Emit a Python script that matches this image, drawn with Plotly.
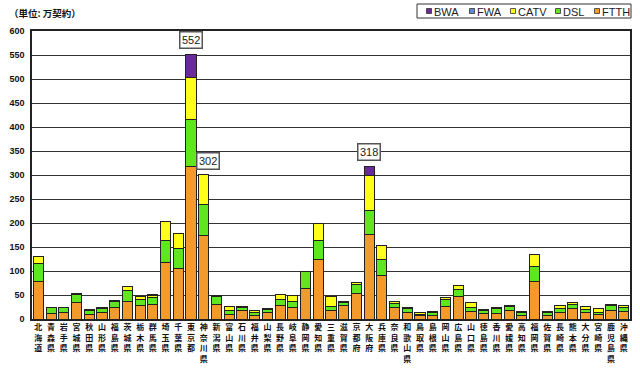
import plotly.graph_objects as go

prefectures = ["北海道", "青森県", "岩手県", "宮城県", "秋田県", "山形県", "福島県", "茨城県", "栃木県", "群馬県",
               "埼玉県", "千葉県", "東京都", "神奈川県", "新潟県", "富山県", "石川県", "福井県", "山梨県", "長野県",
               "岐阜県", "静岡県", "愛知県", "三重県", "滋賀県", "京都府", "大阪府", "兵庫県", "奈良県", "和歌山県",
               "鳥取県", "島根県", "岡山県", "広島県", "山口県", "徳島県", "香川県", "愛媛県", "高知県", "福岡県",
               "佐賀県", "長崎県", "熊本県", "大分県", "宮崎県", "鹿児島県", "沖縄県"]

ftth = [78, 11, 13, 34, 9, 14, 23, 36, 28, 30,
        117, 106, 317, 175, 30, 10, 17, 8, 14, 28,
        25, 63, 123, 18, 28, 53, 177, 90, 24, 14,
        7, 8, 26, 46, 15, 11, 12, 17, 8, 78,
        8, 13, 21, 14, 9, 18, 15]
dsl = [38, 12, 10, 17, 9, 8, 14, 23, 13, 15,
       46, 41, 99, 64, 16, 7, 7, 5, 5, 13,
       12, 35, 41, 9, 6, 19, 49, 33, 9, 7,
       3, 5, 14, 16, 10, 6, 9, 9, 6, 32,
       5, 9, 10, 5, 4, 10, 10]
catv = [14, 1, 1, 3, 2, 1, 1, 8, 5, 3,
        41, 32, 87, 63, 3, 10, 3, 5, 2, 10,
        11, 1, 36, 19, 2, 4, 73, 30, 4, 3,
        4, 2, 5, 7, 10, 2, 2, 3, 1, 25,
        2, 7, 4, 8, 9, 2, 3]
fwa = [0] * 47
bwa = [0] * 47
bwa[9] = 4
bwa[12] = 49
bwa[26] = 19

callouts = {"東京都": 552, "神奈川県": 302, "大阪府": 318}
unit_label = "（単位: 万契約）"

tick_text = ["<br>".join(list(p)) for p in prefectures]

series = [
    ("FTTH", ftth, "#F29B2C"),
    ("DSL", dsl, "#5FE61E"),
    ("CATV", catv, "#FFFF1A"),
    ("FWA", fwa, "#5B8BD6"),
    ("BWA", bwa, "#6B2A9A"),
]

fig = go.Figure()
for name, vals, col in series:
    fig.add_trace(go.Bar(
        x=prefectures, y=vals, name=name,
        marker=dict(color=col, line=dict(color="#222222", width=1)),
        showlegend=False,
    ))

cjk = "Noto Sans CJK JP, Noto Sans, sans-serif"
latin = "Liberation Sans, Arial, sans-serif"

L, R, T, B, W, H = 32, 10, 31, 56, 640, 375
PW, PH = W - L - R, H - T - B
def px(x):
    return (x - L) / PW
def py(y):
    return (H - B - y) / PH

annotations = []
shapes = []
offsets = {"東京都": (0, 14), "神奈川県": (4, 13), "大阪府": (0, 14)}
for p, v in callouts.items():
    dx, dy = offsets[p]
    annotations.append(dict(
        x=p, y=v, xref="x", yref="y", text=str(v), showarrow=False,
        xshift=dx, yshift=dy,
        font=dict(size=11, color="#222222", family=latin),
        bgcolor="white", bordercolor="#555555", borderwidth=1.5, borderpad=1.5,
    ))
annotations.append(dict(
    x=px(7), y=py(13), xref="paper", yref="paper", xanchor="left", yanchor="middle",
    text=unit_label, showarrow=False,
    font=dict(size=9.5, color="#111111", family=cjk, weight="bold"),
))

# legend box (custom, compact like the original)
shapes.append(dict(type="rect", xref="paper", yref="paper",
                   x0=px(417), x1=px(631), y0=py(18), y1=py(4),
                   line=dict(color="#333333", width=1), fillcolor="white"))
leg_x = [429, 472, 513, 558, 597]
for (name, vals, col), lx in zip(reversed(series), leg_x):
    shapes.append(dict(type="rect", xref="paper", yref="paper",
                       x0=px(lx - 2.5), x1=px(lx + 2.5), y0=py(13.5), y1=py(8.5),
                       line=dict(color="#333333", width=0.8), fillcolor=col))
    annotations.append(dict(
        x=px(lx + 3), y=py(11.5), xref="paper", yref="paper", xanchor="left", yanchor="middle",
        text=name, showarrow=False,
        font=dict(size=11, color="#222222", family=latin),
    ))

fig.update_layout(
    barmode="stack",
    bargap=0.2,
    width=W, height=H,
    margin=dict(l=L, r=R, t=T, b=B, autoexpand=False),
    paper_bgcolor="white",
    plot_bgcolor="white",
    font=dict(family=cjk, color="#111111"),
    showlegend=False,
    annotations=annotations,
    shapes=shapes,
    xaxis=dict(
        tickmode="array", tickvals=prefectures, ticktext=tick_text,
        tickfont=dict(size=8, family=cjk, weight="bold"),
        tickangle=0, showline=True, linecolor="#222222", linewidth=1.5, mirror=True,
        ticks="", showgrid=False,
    ),
    yaxis=dict(
        range=[0, 600], dtick=50, tickfont=dict(size=9, family=latin, weight="bold"),
        showline=True, linecolor="#222222", linewidth=1.5, mirror=True,
        gridcolor="#333333", gridwidth=1, ticks="", zeroline=False,
        ticklabelstandoff=4,
    ),
)

fig.write_html(
    "out.html",
    config={"displayModeBar": False},
    post_script="document.body.style.margin='0';document.body.style.overflow='hidden';",
)
